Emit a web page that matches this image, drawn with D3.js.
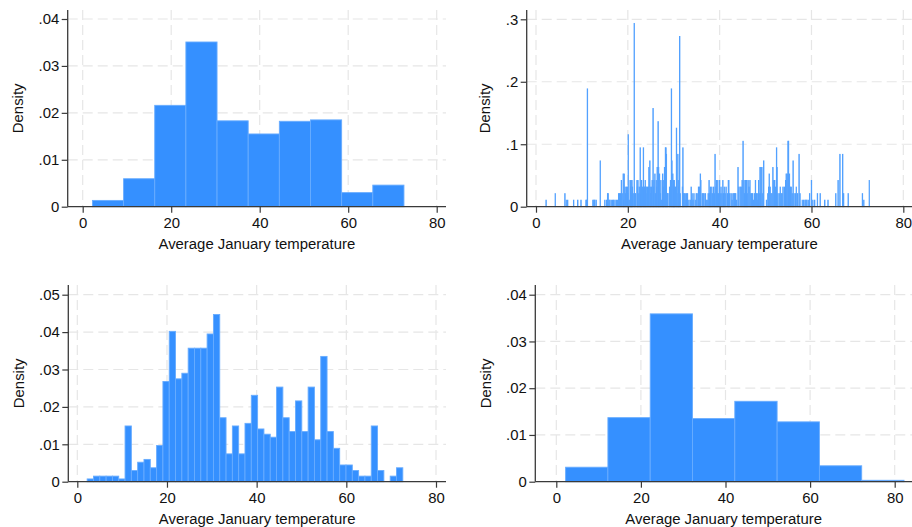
<!DOCTYPE html>
<html><head><meta charset="utf-8">
<script src="https://cdn.jsdelivr.net/npm/d3@7"></script>
<style>
html,body{margin:0;padding:0;background:#fff;}
svg{display:block;font-family:"Liberation Sans",Arial,Helvetica,sans-serif;}
</style></head><body>
<svg id="chart" width="912" height="527"></svg>
<script>
// Shared x-axis ticks (average January temperature, °F)
const xTicks = [0, 20, 40, 60, 80];
const xTitle = "Average January temperature";
const yTitle = "Density";

// Histogram with 10 bins starting at 2.2
const bins10Start = 2.2, bins10Width = 7.04;
const bins10Density = [0.00134, 0.00596, 0.0216, 0.0351, 0.0183, 0.0155, 0.0182, 0.0185, 0.0030, 0.0046];
const bins10YTicks = [0, 0.01, 0.02, 0.03, 0.04];

// Discrete histogram, one bar per 0.1° value: [temperature, number of cities]
const fineWidth = 0.1;
const fineDensityPerCity = 0.01048;
const fineBins = [
  [2.2,1],[4.2,2],[6.3,2],[6.6,1],[6.9,1],[8.2,1],[9.1,1],[9.8,1],[10.9,1],[11.0,1],[11.2,18],
  [12.4,1],[12.6,1],[12.8,1],[13.1,1],[14.0,7],[15.0,1],[15.4,1],[15.6,2],[15.7,2],[15.9,1],[16.1,1],
  [16.4,1],[16.7,1],[16.9,1],[17.2,1],[17.5,1],[17.8,1],[18.0,2],[18.2,2],[18.4,2],[18.6,4],[18.8,2],
  [19.0,5],[19.1,1],[19.2,5],[19.4,3],[19.5,2],[19.7,3],[19.9,3],[20.0,2],[20.1,11],[20.3,1],
  [20.5,4],[20.6,3],[20.7,4],[20.8,2],[20.9,4],[21.0,3],[21.2,2],[21.4,28],[21.5,2],[21.7,2],
  [22.0,4],[22.1,3],[22.2,4],[22.4,2],[22.5,3],[22.7,9],[22.8,3],[22.9,2],[23.0,4],[23.2,3],
  [23.4,9],[23.5,3],[23.6,3],[23.8,4],[23.9,3],[24.0,3],[24.2,2],[24.3,3],[24.5,3],[24.6,6],
  [24.8,7],[24.9,3],[25.0,2],[25.2,3],[25.3,4],[25.5,15],[25.6,3],[25.7,4],[25.9,5],[26.0,2],
  [26.2,4],[26.3,3],[26.4,6],[26.6,13],[26.7,6],[26.8,4],[26.9,5],[27.1,2],[27.2,4],[27.4,1],
  [27.6,5],[27.7,4],[27.8,3],[28.0,6],[28.2,9],[28.3,9],[28.4,8],[28.6,2],[28.7,2],
  [29.0,2],[29.1,3],[29.3,4],[29.5,18],[29.6,7],[29.8,5],[29.9,3],[30.0,4],[30.1,4],[30.2,3],
  [30.4,3],[30.6,12],[30.7,2],[30.9,8],[31.0,4],[31.1,3],[31.3,26],[31.4,2],
  [31.9,3],[32.0,9],[32.1,2],[32.3,2],[32.5,2],[32.7,1],[32.8,2],[33.0,2],
  [33.3,1],[33.6,1],[33.8,3],[34.0,2],[34.2,1],[34.4,2],
  [34.7,1],[34.9,2],[35.1,2],[35.4,3],[35.6,3],[35.8,5],[35.9,4],
  [36.2,2],[36.4,2],[36.6,2],[36.9,2],[37.1,1],[37.3,1],
  [37.5,2],[37.7,4],[37.8,2],[38.0,3],[38.1,2],[38.3,3],[38.5,2],[38.7,3],
  [38.9,2],[39.0,8],[39.2,3],[39.3,4],[39.5,2],[39.6,4],[39.8,2],[40.0,4],[40.1,2],
  [40.3,3],[40.5,2],[40.7,4],[40.9,2],[41.0,3],[41.2,2],[41.4,3],
  [41.7,2],[41.9,4],[42.0,4],[42.2,2],[42.5,2],[42.7,1],[42.9,2],
  [43.1,2],[43.3,2],[43.5,2],[43.7,1],[44.0,6],[44.2,3],
  [44.5,3],[44.7,3],[44.9,4],[45.1,10],[45.3,4],[45.4,2],[45.6,4],[45.7,4],
  [45.9,4],[46.0,2],[46.2,4],[46.4,3],[46.6,4],[46.8,2],[47.0,2],[47.2,2],
  [47.4,1],[47.6,2],[47.8,4],[48.0,2],[48.2,2],[48.3,1],[48.5,4],[48.6,2],
  [48.8,6],[48.9,2],[49.0,6],[49.2,6],[49.4,2],[49.6,7],
  [50.2,1],[50.5,2],[50.7,3],[50.8,5],[51.0,3],[51.2,2],[51.4,2],
  [51.6,6],[51.8,4],[52.0,4],[52.2,3],[52.4,9],[52.5,6],[52.7,2],
  [53.0,2],[53.2,3],[53.4,2],[53.6,2],[53.8,3],[54.1,3],
  [54.4,4],[54.5,5],[54.7,5],[54.9,10],[55.0,10],[55.2,5],[55.4,3],[55.6,3],
  [55.8,2],[56.0,7],[56.2,2],[56.5,2],[56.7,3],[57.0,2],
  [57.3,8],[57.5,2],[58.0,1],[58.3,1],[58.6,1],[58.8,1],[59.0,1],[59.3,1],[59.6,2],
  [60.0,4],[60.3,1],[60.7,1],[61.3,2],[61.9,2],[62.9,1],[63.6,1],[65.3,2],
  [65.8,4],[66.2,8],[66.8,8],[67.0,2],[68.0,2],[71.1,2],[71.4,1],[72.6,4]
];
const fineYTicks = [0, 0.1, 0.2, 0.3];

// Histogram with 50 bins starting at 2.2
const bins50Start = 2.2, bins50Width = 1.408;
const bins50Density = [
  0.00074, 0.00149, 0.00149, 0.00149, 0.00149, 0.00074, 0.0149, 0.00298, 0.00521, 0.00596,
  0.00372, 0.00968, 0.0268, 0.0402, 0.0275, 0.0290, 0.0357, 0.0357, 0.0357, 0.0395,
  0.0447, 0.0171, 0.00744, 0.0149, 0.00744, 0.0156, 0.0231, 0.0141, 0.0127, 0.0119,
  0.0253, 0.0171, 0.0134, 0.0216, 0.0134, 0.0253, 0.0112, 0.0335, 0.0134, 0.00893,
  0.00447, 0.00447, 0.00298, 0.00149, 0.00149, 0.0149, 0.00298, 0, 0.00149, 0.00372
];
const bins50YTicks = [0, 0.01, 0.02, 0.03, 0.04, 0.05];

// Histogram with bins 10° wide starting at 2.2
const w10Start = 2.2, w10Width = 10;
const w10Density = [0.0031, 0.0137, 0.0359, 0.0135, 0.0172, 0.0128, 0.0034, 0.0003];
const w10YTicks = [0, 0.01, 0.02, 0.03, 0.04];

// Build bar records {x0, x1, d} for each panel
const binBars = (start, width, dens) => dens.map((d, i) => ({x0: start + i * width, x1: start + (i + 1) * width, d}));
const fineBars = fineBins.map(([t, n]) => ({x0: t - fineWidth / 2, x1: t + fineWidth / 2, d: n * fineDensityPerCity}));

// Panel layout in the 2x2 grid
const panels = [
  {axisX: 67.7, top: 10, base: 206.7, x0: 82.7, x80: 436.7, right: 446, yTicks: bins10YTicks, yMaxPx: 19, bars: binBars(bins10Start, bins10Width, bins10Density), fine: false},
  {axisX: 526.7, top: 10, base: 206.7, x0: 536, x80: 903.3, right: 912, yTicks: fineYTicks, yMaxPx: 19.3, bars: fineBars, fine: true},
  {axisX: 68.3, top: 285, base: 481.7, x0: 77.3, x80: 436, right: 446, yTicks: bins50YTicks, yMaxPx: 294.7, bars: binBars(bins50Start, bins50Width, bins50Density), fine: false},
  {axisX: 535.3, top: 285, base: 481.7, x0: 556.3, x80: 894.7, right: 912, yTicks: w10YTicks, yMaxPx: 294.7, bars: binBars(w10Start, w10Width, w10Density), fine: false}
];

const svg = d3.select("#chart");
const FONT = 14.9;
const textColor = "#111";
const axisColor = "#3a3a3a";
const gridColor = "#e6e6e6";
const fmt = d => d === 0 ? "0" : String(d).replace(/^0\./, ".");

panels.forEach(p => {
  const g = svg.append("g");
  const x = d3.scaleLinear().domain([0, 80]).range([p.x0, p.x80]);
  const yMax = p.yTicks[p.yTicks.length - 1];
  const y = d3.scaleLinear().domain([0, yMax]).range([p.base, p.yMaxPx]);

  // dashed grid
  g.append("g").selectAll("line").data(p.yTicks.filter(t => t > 0)).join("line")
    .attr("x1", p.axisX).attr("x2", p.right).attr("y1", d => y(d)).attr("y2", d => y(d))
    .attr("stroke", gridColor).attr("stroke-width", 1.2).attr("stroke-dasharray", "10,5");
  g.append("g").selectAll("line").data(xTicks).join("line")
    .attr("x1", d => x(d)).attr("x2", d => x(d)).attr("y1", p.top).attr("y2", p.base)
    .attr("stroke", gridColor).attr("stroke-width", 1.2).attr("stroke-dasharray", "10,5");

  // bars
  g.append("g").selectAll("rect").data(p.bars.filter(b => b.d > 0)).join("rect")
    .attr("x", b => x(b.x0)).attr("width", b => x(b.x1) - x(b.x0))
    .attr("y", b => y(b.d)).attr("height", b => p.base - y(b.d))
    .attr("fill", p.fine ? "#52a1ff" : "#3590ff")
    .attr("stroke", p.fine ? "#52a1ff" : "#68acff")
    .attr("stroke-width", p.fine ? 0.85 : 0.9);

  // y axis
  const ya = g.append("g").attr("transform", `translate(${p.axisX},0)`)
    .call(d3.axisLeft(y).tickValues(p.yTicks).tickFormat(fmt).tickSize(6).tickSizeOuter(0).tickPadding(2.5));
  ya.select(".domain").remove();
  ya.attr("font-family", null);
  ya.selectAll(".tick line").attr("stroke", axisColor).attr("stroke-width", 1.2);
  ya.selectAll(".tick text").attr("font-size", FONT).attr("fill", textColor);

  // x axis
  const xa = g.append("g").attr("transform", `translate(0,${p.base})`)
    .call(d3.axisBottom(x).tickValues(xTicks).tickSize(6).tickSizeOuter(0).tickPadding(4.5));
  xa.select(".domain").remove();
  xa.attr("font-family", null);
  xa.selectAll(".tick line").attr("stroke", axisColor).attr("stroke-width", 1.2);
  xa.selectAll(".tick text").attr("font-size", FONT).attr("fill", textColor);

  // axis lines spanning the plot region
  g.append("line").attr("x1", p.axisX).attr("x2", p.axisX).attr("y1", p.top).attr("y2", p.base)
    .attr("stroke", axisColor).attr("stroke-width", 1.3);
  g.append("line").attr("x1", p.axisX).attr("x2", p.right).attr("y1", p.base).attr("y2", p.base)
    .attr("stroke", axisColor).attr("stroke-width", 1.3);

  // titles
  g.append("text").attr("x", (p.axisX + p.right) / 2).attr("y", p.base + 42)
    .attr("text-anchor", "middle").attr("font-size", FONT).attr("fill", textColor).text(xTitle);
  const lb = ya.node().getBBox();
  const cx = p.axisX + lb.x - 20.5;
  g.append("text").attr("transform", `translate(${cx},${(p.top + p.base) / 2}) rotate(-90)`)
    .attr("dy", "0.35em").attr("text-anchor", "middle").attr("font-size", FONT).attr("fill", textColor).text(yTitle);
});
</script>
</body></html>
